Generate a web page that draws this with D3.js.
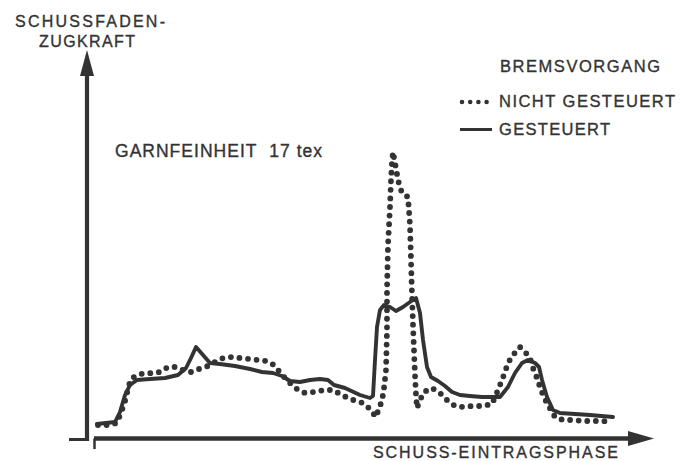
<!DOCTYPE html>
<html>
<head>
<meta charset="utf-8">
<script src="https://cdn.jsdelivr.net/npm/d3@7"></script>
<style>
  html, body { margin: 0; padding: 0; background: #ffffff; }
  svg { display: block; }
  text { font-family: "Liberation Sans", Arial, Helvetica, sans-serif; fill: #333; stroke: #333; stroke-width: 0.35px; }
</style>
</head>
<body>
<svg id="chart" width="690" height="461"></svg>
<script>
// ---- Data (arbitrary units) ----
// Bremsvorgang gesteuert (solid)
const solidPhase = [1,10,19,24,29,34,41,54,69,82,90,95,100,107,114,124,139,154,166,177,186,194,204,214,224,232,238,249,264,274,277,279,281,284,288,294,300,307,314,320,324,327,331,335,342,349,356,364,374,386,397,404,412,419,426,432,439,443,446,451,457,464,479,494,517];
const solidForce = [13,14,15,25,42,52,57,58,59,62,69,79,90,82,74,73,71,68,65,64,61,56,55,57,58,57,52,49,42,39,41,77,110,127,132,130,126,130,135,139,124,97,70,60,56,51,45,42,41,40,40,40,50,64,74,77,74,70,57,40,27,24,23,22,20];
// Bremsvorgang nicht gesteuert (dotted)
const dottedPhase = [2,12,21,26,29,31,33,36,44,56,64,72,79,87,95,103,112,119,127,136,144,154,162,171,178,183,189,194,201,209,218,228,237,244,252,260,267,274,280,283,286,288,290,291,291,292,294,295,296,297,299,301,303,306,312,314,315,316,317,318,319,320,321,324,328,336,344,351,359,367,376,386,396,402,406,409,412,417,424,430,434,437,441,444,447,451,459,467,477,487,497,507,516];
const dottedForce = [12,12,14,27,36,44,52,59,63,64,65,70,70,67,65,68,71,75,79,80,79,78,77,76,72,66,59,54,48,44,45,47,47,43,39,36,34,28,20,29,36,49,67,107,147,192,230,257,275,285,274,263,253,244,240,212,177,142,112,87,62,42,29,37,45,49,44,37,31,30,31,31,33,47,57,65,74,82,90,84,79,69,59,50,42,34,20,17,17,16,16,16,15];

const legendTitle = "BREMSVORGANG";
const seriesNames = ["NICHT GESTEUERT", "GESTEUERT"];
const yAxisLabel = ["SCHUSSFADEN-", "ZUGKRAFT"];
const xAxisLabel = "SCHUSS-EINTRAGSPHASE";
const noteLabel = "GARNFEINHEIT\u00a0\u00a017 tex";

// ---- Layout ----
const ink = "#333333";
const svg = d3.select("#chart");
const x = d3.scaleLinear().domain([0, 560]).range([96, 656]);
const y = d3.scaleLinear().domain([0, 300]).range([437, 137]);

// ---- Axes (no ticks, arrows) ----
const yAxisX = 87, xAxisY = 438.5;
svg.append("line").attr("x1", yAxisX).attr("x2", yAxisX)
  .attr("y1", 441).attr("y2", 72)
  .attr("stroke", ink).attr("stroke-width", 4.2);
svg.append("path").attr("d", `M${yAxisX},50 L${yAxisX-7},76 L${yAxisX+7},76 Z`).attr("fill", ink);
svg.append("line").attr("x1", 69).attr("x2", yAxisX)
  .attr("y1", 439.5).attr("y2", 439.5)
  .attr("stroke", ink).attr("stroke-width", 3);
const xStart = x(0) - 2;
svg.append("line").attr("x1", xStart).attr("x2", 632)
  .attr("y1", xAxisY).attr("y2", xAxisY)
  .attr("stroke", ink).attr("stroke-width", 4.5);
svg.append("line").attr("x1", xStart + 0.5).attr("x2", xStart + 0.5)
  .attr("y1", xAxisY).attr("y2", 449)
  .attr("stroke", ink).attr("stroke-width", 2.5);
svg.append("path").attr("d", `M654,${xAxisY} L628,${xAxisY-7.5} L628,${xAxisY+7.5} Z`).attr("fill", ink);

// ---- Series ----
const solidData = solidPhase.map((p, i) => [p, solidForce[i]]);
const dottedData = dottedPhase.map((p, i) => [p, dottedForce[i]]);
const line = d3.line().x(d => x(d[0])).y(d => y(d[1])).curve(d3.curveLinear);

svg.append("path").datum(solidData)
  .attr("d", line)
  .attr("fill", "none").attr("stroke", ink)
  .attr("stroke-width", 3.9).attr("stroke-linejoin", "round").attr("stroke-linecap", "round");

svg.append("path").datum(dottedData)
  .attr("d", line)
  .attr("fill", "none").attr("stroke", ink)
  .attr("stroke-width", 5.8).attr("stroke-linecap", "round")
  .attr("stroke-dasharray", "0 8.6");

// ---- Texts ----
function addText(str, tx, ty, size, len) {
  return svg.append("text").attr("x", tx).attr("y", ty)
    .attr("font-size", size)
    .attr("textLength", len).attr("lengthAdjust", "spacing")
    .text(str);
}
addText(yAxisLabel[0], 15, 27, 16, 150);
addText(yAxisLabel[1], 39, 47, 16, 96);
addText(xAxisLabel, 373, 458, 16, 245);
addText(noteLabel, 115, 157, 17.5, 207);
addText(legendTitle, 500, 72, 16.5, 160);
addText(seriesNames[0], 499, 107, 16.5, 176);
addText(seriesNames[1], 499, 135, 16.5, 111);

// legend samples
svg.append("path").datum([[462, 102], [490, 102]])
  .attr("d", d3.line())
  .attr("stroke", ink).attr("stroke-width", 4.6).attr("stroke-linecap", "round")
  .attr("stroke-dasharray", "0 8.2").attr("fill", "none");
svg.append("line").attr("x1", 460).attr("x2", 492).attr("y1", 129.5).attr("y2", 129.5)
  .attr("stroke", ink).attr("stroke-width", 3);
</script>
</body>
</html>
